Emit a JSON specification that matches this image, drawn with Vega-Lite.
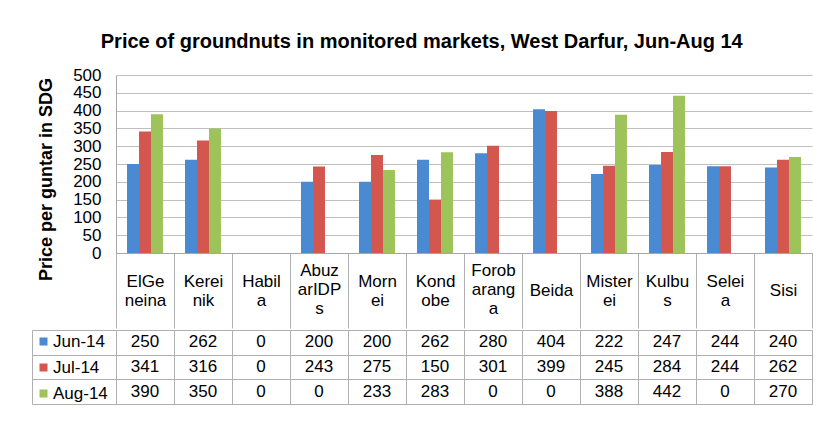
{
  "$schema": "https://vega.github.io/schema/vega-lite/v6.json",
  "background": "white",
  "padding": {"left": 31, "top": 32, "right": 5, "bottom": 5},
  "title": {"text": "Price of groundnuts in monitored markets, West Darfur, Jun-Aug 14", "fontSize": 20, "fontWeight": "bold", "font": "Liberation Sans", "color": "black", "anchor": "middle", "offset": 14},
  "data": {"values": [
    {"market": "ElGeneina", "month": "Jun-14", "price": 250},
    {"market": "Kereinik", "month": "Jun-14", "price": 262},
    {"market": "Habila", "month": "Jun-14", "price": 0},
    {"market": "AbuzarIDPs", "month": "Jun-14", "price": 200},
    {"market": "Mornei", "month": "Jun-14", "price": 200},
    {"market": "Kondobe", "month": "Jun-14", "price": 262},
    {"market": "Forobaranga", "month": "Jun-14", "price": 280},
    {"market": "Beida", "month": "Jun-14", "price": 404},
    {"market": "Misterei", "month": "Jun-14", "price": 222},
    {"market": "Kulbus", "month": "Jun-14", "price": 247},
    {"market": "Seleia", "month": "Jun-14", "price": 244},
    {"market": "Sisi", "month": "Jun-14", "price": 240},
    {"market": "ElGeneina", "month": "Jul-14", "price": 341},
    {"market": "Kereinik", "month": "Jul-14", "price": 316},
    {"market": "Habila", "month": "Jul-14", "price": 0},
    {"market": "AbuzarIDPs", "month": "Jul-14", "price": 243},
    {"market": "Mornei", "month": "Jul-14", "price": 275},
    {"market": "Kondobe", "month": "Jul-14", "price": 150},
    {"market": "Forobaranga", "month": "Jul-14", "price": 301},
    {"market": "Beida", "month": "Jul-14", "price": 399},
    {"market": "Misterei", "month": "Jul-14", "price": 245},
    {"market": "Kulbus", "month": "Jul-14", "price": 284},
    {"market": "Seleia", "month": "Jul-14", "price": 244},
    {"market": "Sisi", "month": "Jul-14", "price": 262},
    {"market": "ElGeneina", "month": "Aug-14", "price": 390},
    {"market": "Kereinik", "month": "Aug-14", "price": 350},
    {"market": "Habila", "month": "Aug-14", "price": 0},
    {"market": "AbuzarIDPs", "month": "Aug-14", "price": 0},
    {"market": "Mornei", "month": "Aug-14", "price": 233},
    {"market": "Kondobe", "month": "Aug-14", "price": 283},
    {"market": "Forobaranga", "month": "Aug-14", "price": 0},
    {"market": "Beida", "month": "Aug-14", "price": 0},
    {"market": "Misterei", "month": "Aug-14", "price": 388},
    {"market": "Kulbus", "month": "Aug-14", "price": 442},
    {"market": "Seleia", "month": "Aug-14", "price": 0},
    {"market": "Sisi", "month": "Aug-14", "price": 270}
  ]},
  "spacing": 0,
  "resolve": {"legend": {"color": "independent"}},
  "vconcat": [
    {
      "width": 696,
      "height": 178,
      "view": {"stroke": null},
      "mark": {"type": "bar"},
      "encoding": {
        "x": {"field": "market", "type": "nominal",
          "sort": ["ElGeneina","Kereinik","Habila","AbuzarIDPs","Mornei","Kondobe","Forobaranga","Beida","Misterei","Kulbus","Seleia","Sisi"],
          "scale": {"paddingInner": 0, "paddingOuter": 0},
          "axis": {"title": null, "labelAngle": 0, "domain": true, "domainColor": "#a6a6a6", "ticks": true, "tickBand": "extent", "tickSize": 75, "tickColor": "#b0b0b0",
            "labelExpr": "{'ElGeneina':['ElGe','neina'],'Kereinik':['Kerei','nik'],'Habila':['Habil','a'],'AbuzarIDPs':['Abuz','arIDP','s'],'Mornei':['Morn','ei'],'Kondobe':['Kond','obe'],'Forobaranga':['Forob','arang','a'],'Beida':'Beida','Misterei':['Mister','ei'],'Kulbus':['Kulbu','s'],'Seleia':['Selei','a'],'Sisi':'Sisi'}[datum.value]",
            "labelPadding": {"condition": [{"test": "indexof(['AbuzarIDPs','Forobaranga'], datum.value) >= 0", "value": -58}, {"test": "indexof(['Beida','Sisi'], datum.value) >= 0", "value": -38}], "value": -47},
            "labelBaseline": "middle", "labelLineHeight": 19, "labelFontSize": 17, "labelColor": "black", "labelFont": "Liberation Sans", "labelAlign": "center"}},
        "xOffset": {"field": "month", "type": "nominal", "sort": ["Jun-14","Jul-14","Aug-14"], "scale": {"paddingInner": 0, "paddingOuter": 0.92}},
        "y": {"field": "price", "type": "quantitative", "scale": {"domain": [0, 500]},
          "axis": {"values": [0,50,100,150,200,250,300,350,400,450,500], "title": "Price per guntar in SDG", "titleFontSize": 18, "titleFontWeight": "bold", "titleColor": "black", "titleFont": "Liberation Sans", "titleY": 104,
            "labelFontSize": 17, "labelColor": "black", "labelFont": "Liberation Sans", "labelPadding": 15, "ticks": false, "domainColor": "#a6a6a6", "gridColor": "#bfbfbf", "gridWidth": 1.2, "titlePadding": 17}},
        "color": {"field": "month", "type": "nominal", "sort": ["Jun-14","Jul-14","Aug-14"], "scale": {"domain": ["Jun-14","Jul-14","Aug-14"], "range": ["#4a8ad0", "#d3574f", "#9dc35a"]}, "legend": null}
      }
    },
    {
      "width": 696,
      "height": 74,
      "view": {"stroke": "#b0b0b0"},
      "encoding": {
        "x": {"field": "market", "type": "nominal",
          "sort": ["ElGeneina","Kereinik","Habila","AbuzarIDPs","Mornei","Kondobe","Forobaranga","Beida","Misterei","Kulbus","Seleia","Sisi"],
          "scale": {"paddingInner": 0, "paddingOuter": 0},
          "axis": {"title": null, "labels": false, "ticks": false, "domain": false, "grid": true, "tickBand": "extent", "gridColor": "#b0b0b0"}},
        "y": {"field": "month", "type": "nominal", "sort": ["Jun-14","Jul-14","Aug-14"],
          "scale": {"paddingInner": 0, "paddingOuter": 0},
          "axis": {"title": null, "labels": false, "ticks": true, "tickSize": -84, "offset": 84, "tickColor": "#b0b0b0", "domain": true, "domainColor": "#b0b0b0", "grid": true, "tickBand": "extent", "gridColor": "#b0b0b0"}}
      },
      "layer": [
        {
          "mark": {"type": "square", "opacity": 0},
          "encoding": {
            "color": {"field": "month", "type": "nominal", "sort": ["Jun-14","Jul-14","Aug-14"], "scale": {"domain": ["Jun-14","Jul-14","Aug-14"], "range": ["#4a8ad0", "#d3574f", "#9dc35a"]},
              "legend": {"orient": "left", "title": null, "offset": -80, "symbolType": "square", "symbolSize": 64, "symbolOpacity": 1, "symbolStrokeWidth": 0, "labelFontSize": 17, "labelColor": "black", "labelFont": "Liberation Sans", "rowPadding": 8, "labelOffset": 1, "padding": 3}}
          }
        },
        {
          "mark": {"type": "text", "fontSize": 17, "font": "Liberation Sans", "color": "black"},
          "encoding": {"text": {"field": "price", "type": "quantitative"}}
        }
      ]
    }
  ]
}
